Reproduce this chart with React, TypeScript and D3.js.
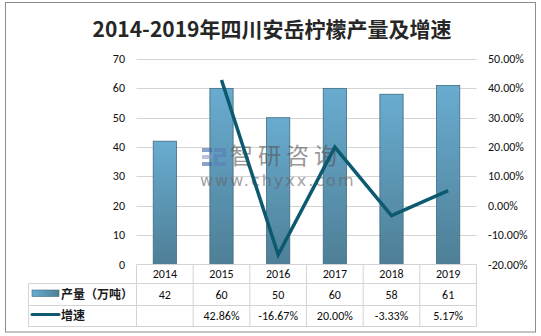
import React from "react";
import * as d3 from "d3";

const years = ["2014", "2015", "2016", "2017", "2018", "2019"];
const output = [42, 60, 50, 60, 58, 61];
const growth: (number | null)[] = [null, 0.4286, -0.1667, 0.2, -0.0333, 0.0517];
const growthLabels = ["", "42.86%", "-16.67%", "20.00%", "-3.33%", "5.17%"];
const leftTicks = [0, 10, 20, 30, 40, 50, 60, 70];
const rightTicks = [-0.2, -0.1, 0, 0.1, 0.2, 0.3, 0.4, 0.5];
const title = "2014-2019年四川安岳柠檬产量及增速";
const seriesNames = ["产量（万吨）", "增速"];

const W = 541;
const H = 336;
const FONT = "Calibri, 'Liberation Sans', 'Noto Sans CJK SC', sans-serif";
const CJK = "'Microsoft YaHei', 'Noto Sans CJK SC', sans-serif";

export default function App() {
  const plotL = 136.5;
  const plotR = 476.5;
  const plotT = 59;
  const plotB = 264.5;
  const x = d3.scaleBand<string>().domain(years).range([plotL, plotR]).padding(0);
  const yL = d3.scaleLinear().domain([0, 70]).range([plotB, plotT]);
  const yR = d3.scaleLinear().domain([-0.2, 0.5]).range([plotB, plotT]);
  const bw = x.bandwidth() * 0.41;

  const pts = years
    .map((yr, i) => ({ yr, v: growth[i] }))
    .filter((d) => d.v !== null) as { yr: string; v: number }[];
  const line = d3
    .line<{ yr: string; v: number }>()
    .x((d) => (x(d.yr) as number) + x.bandwidth() / 2)
    .y((d) => yR(d.v));

  const tableL = 28.5;
  const rowTop = 264.5;
  const row1 = 283.5;
  const row2 = 305.5;
  const row3 = 326.5;
  const gridColor = "#d4d4d4";

  return (
    <svg
      width={W}
      height={H}
      style={{ position: "absolute", left: 0, top: 0, background: "#fff" }}
      fontFamily={FONT}
    >
      <defs>
        <linearGradient id="barGrad" x1="0" y1="0" x2="0" y2="1">
          <stop offset="0%" stopColor="#69acd0" />
          <stop offset="100%" stopColor="#4e7f96" />
        </linearGradient>
        <linearGradient id="legGrad" x1="0" y1="0" x2="1" y2="0">
          <stop offset="0%" stopColor="#69acd0" />
          <stop offset="100%" stopColor="#4e7f96" />
        </linearGradient>
      </defs>
      <rect x={5.5} y={2.5} width={530} height={329.5} fill="#fff" stroke="#8c8c8c" strokeWidth={1} />

      <text
        x={272}
        y={37}
        textAnchor="middle"
        fontFamily={CJK}
        fontWeight="bold"
        fontSize={21}
        fill="#262626"
      >
        {title}
      </text>

      {/* gridlines */}
      {leftTicks.slice(1).map((t) => (
        <line key={t} x1={plotL} x2={plotR} y1={Math.round(yL(t)) + 0.5} y2={Math.round(yL(t)) + 0.5} stroke={gridColor} />
      ))}

      {/* left axis labels */}
      {leftTicks.map((t) => (
        <text key={t} x={125} y={yL(t) + 4} textAnchor="end" fontSize={12} fill="#111">
          {t}
        </text>
      ))}
      {/* right axis labels */}
      {rightTicks.map((t) => (
        <text key={t} x={488} y={yR(t) + 4} textAnchor="start" fontSize={12} fill="#111">
          {(t * 100).toFixed(2) + "%"}
        </text>
      ))}

      {/* bars */}
      {years.map((yr, i) => {
        const cx = (x(yr) as number) + x.bandwidth() / 2;
        return (
          <rect
            key={yr}
            x={cx - bw / 2}
            y={yL(output[i])}
            width={bw}
            height={plotB - yL(output[i])}
            fill="url(#barGrad)"
            stroke="#3f6b80"
            strokeWidth={0.8}
          />
        );
      })}

      {/* watermark */}
      <g opacity={0.6}>
        <rect x={202} y={148} width={10} height={4} fill="#3f66a8" />
        <rect x={202} y={155} width={10} height={4} fill="#8a9bc0" />
        <rect x={202} y={162} width={10} height={4} fill="#3f66a8" />
        <path d="M214,148 h12 v9 h-8 v5 h8 v4 h-12 v-12 h8 v-2 h-8 z" fill="#5b7fb8" />
        <text x={230} y={164} fontFamily={CJK} fontSize={23} fill="#555" letterSpacing={5}>
          智研咨询
        </text>
        <text x={200} y={186} fontFamily="'DejaVu Sans', sans-serif" fontSize={16} fill="#666" letterSpacing={2}>
          www.chyxx.com
        </text>
      </g>

      {/* growth line */}
      <path d={line(pts) || ""} fill="none" stroke="#0d5a70" strokeWidth={3.5} strokeLinejoin="miter" />

      {/* table */}
      <g stroke={gridColor} strokeWidth={1}>
        <line x1={plotL} x2={plotR} y1={rowTop} y2={rowTop} />
        <line x1={tableL} x2={plotR} y1={row1} y2={row1} />
        <line x1={tableL} x2={plotR} y1={row2} y2={row2} />
        <line x1={tableL} x2={plotR} y1={row3} y2={row3} />
        <line x1={tableL} x2={tableL} y1={row1} y2={row3} />
        {years.map((yr) => (
          <line key={yr} x1={x(yr) as number} x2={x(yr) as number} y1={rowTop} y2={row3} />
        ))}
        <line x1={plotR} x2={plotR} y1={rowTop} y2={row3} />
      </g>
      {years.map((yr, i) => {
        const cx = (x(yr) as number) + x.bandwidth() / 2;
        return (
          <g key={yr} fontSize={12} fill="#0d0d0d" textAnchor="middle">
            <text x={cx} y={278}>{yr}</text>
            <text x={cx} y={299}>{output[i]}</text>
            <text x={cx} y={320}>{growthLabels[i]}</text>
          </g>
        );
      })}

      {/* legend keys */}
      <rect x={32} y={290} width={27} height={6.5} fill="url(#legGrad)" stroke="#3f6b80" strokeWidth={0.6} />
      <line x1={32} x2={59} y1={314.5} y2={314.5} stroke="#0d5a70" strokeWidth={3} strokeLinecap="round" />
      <text x={61} y={299} fontFamily={CJK} fontWeight="bold" fontSize={12} fill="#1a1a1a">
        {seriesNames[0]}
      </text>
      <text x={61} y={320} fontFamily={CJK} fontWeight="bold" fontSize={12} fill="#1a1a1a">
        {seriesNames[1]}
      </text>
    </svg>
  );
}
